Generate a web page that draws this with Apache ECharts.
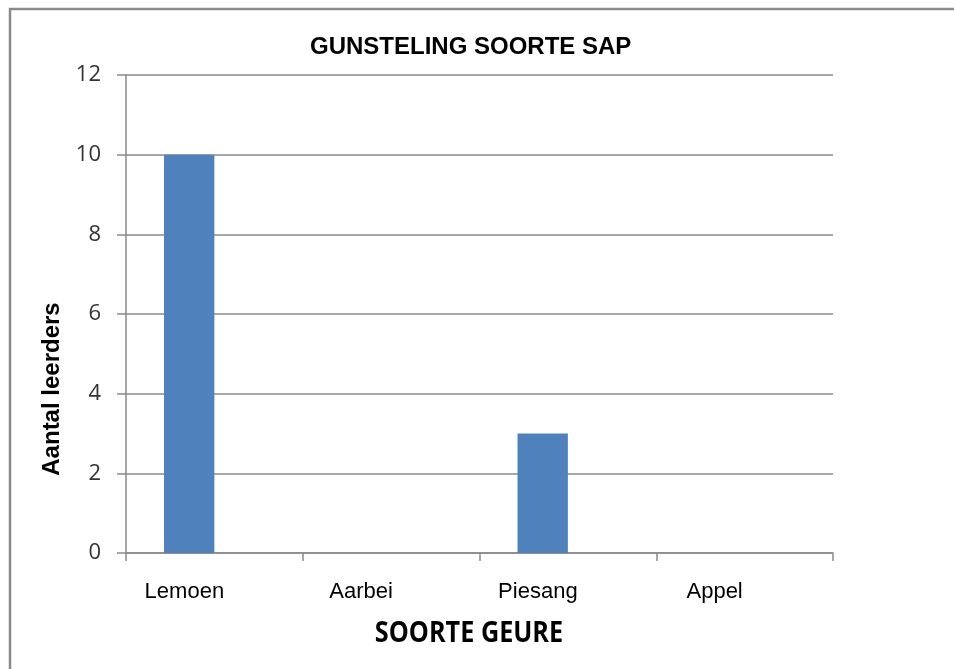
<!DOCTYPE html>
<html>
<head>
<meta charset="utf-8">
<script src="https://cdn.jsdelivr.net/npm/echarts@6/dist/echarts.min.js"></script>
<style>
html,body{margin:0;padding:0;background:#fff;}
#chart{width:954px;height:669px;}
</style>
</head>
<body>
<div id="chart"></div>
<script>
const categories = ['Lemoen', 'Aarbei', 'Piesang', 'Appel'];
const learners = [10, 0, 3, 0];
const secondSeries = [0, 0, 0, 0];
const yTicks = { min: 0, max: 12, interval: 2 };
const titleText = 'GUNSTELING SOORTE SAP';
const xTitle = 'SOORTE GEURE';
const yTitle = 'Aantal leerders';

const chart = echarts.init(document.getElementById('chart'));
chart.setOption({
  animation: false,
  backgroundColor: '#fff',
  title: {
    text: titleText,
    left: 310,
    top: 35,
    padding: 0,
    textStyle: { fontFamily: 'Liberation Sans', fontWeight: 'bold', fontSize: 24, color: '#000' }
  },
  grid: { left: 126, right: 121, top: 75, bottom: 116, containLabel: false },
  xAxis: {
    type: 'category',
    data: categories,
    axisLine: { lineStyle: { color: '#8a8a8a', width: 1.5 } },
    axisTick: { show: true, length: 8, inside: false, alignWithLabel: false, lineStyle: { color: '#8a8a8a', width: 1.5 } },
    axisLabel: { margin: 28, fontFamily: 'Liberation Sans', fontSize: 22, color: '#000', padding: [0, 60, 0, 0] }
  },
  yAxis: {
    type: 'value',
    min: yTicks.min, max: yTicks.max, interval: yTicks.interval,
    axisLine: { show: true, lineStyle: { color: '#8a8a8a', width: 1.5 } },
    axisTick: { show: true, length: 9, lineStyle: { color: '#8a8a8a', width: 1.5 } },
    splitLine: { show: true, lineStyle: { color: '#8a8a8a', width: 1.5 } },
    axisLabel: { margin: 25, fontFamily: 'Open Sans', fontSize: 22, color: '#333' }
  },
  series: [
    { type: 'bar', data: learners, barGap: '0%', barCategoryGap: '43%',
      itemStyle: { color: '#4f81bd' } },
    { type: 'bar', data: secondSeries, barGap: '0%', barCategoryGap: '43%',
      itemStyle: { color: '#c0504d' } }
  ],
  graphic: [
    { type: 'rect', shape: { x: 10, y: 9, width: 1200, height: 1200 },
      style: { fill: 'none', stroke: '#8a8a8a', lineWidth: 2.5 }, silent: true },
    { type: 'text', x: 469, y: 634, scaleX: 0.87,
      style: { text: xTitle, fontFamily: 'Open Sans', fontWeight: 'bold', fontSize: 29, fill: '#000',
               textAlign: 'center', textVerticalAlign: 'middle' } },
    { type: 'text', x: 52, y: 389, rotation: Math.PI / 2,
      style: { text: yTitle, fontFamily: 'Liberation Sans', fontWeight: 'bold', fontSize: 24, fill: '#000',
               textAlign: 'center', textVerticalAlign: 'middle' } }
  ]
});
</script>
</body>
</html>
